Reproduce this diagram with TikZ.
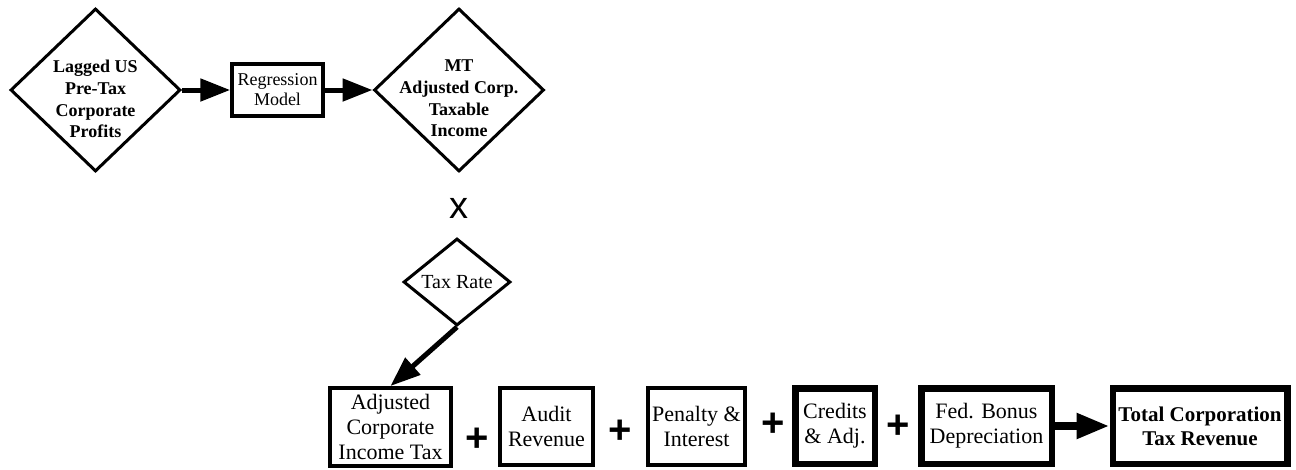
\documentclass[tikz,border=0pt]{standalone}
\usepackage{fontspec}
\setmainfont{Liberation Serif}
\setsansfont{Liberation Sans}
\usetikzlibrary{arrows.meta,shapes.geometric}

\begin{document}
\begin{tikzpicture}
  [x=1pt,y=-1pt,->,>={Triangle[length=30pt,width=22pt]},line width=5pt,
   every node/.style={align=center,font=\fontsize{22}{25}\selectfont},
   dia/.style={diamond,draw,line width=3pt,inner sep=-40pt},
   bigdia/.style={dia,font=\fontsize{18}{21.7}\selectfont\bfseries,
     minimum width=170pt,minimum height=163pt},
   box/.style={rectangle,draw,line width=4pt,inner sep=0pt,minimum height=77pt},
   thickbox/.style={box,line width=6.5pt,minimum height=75.5pt},
   op/.style={font=\fontsize{40}{40}\selectfont\sffamily\bfseries,inner sep=0pt}]
  \useasboundingbox (0,0) rectangle (1296,469);

  % top row
  \node[bigdia] (nlag) at (95.5,90)
    {\rule{0pt}{31pt}Lagged US\\Pre-Tax\\Corporate\\Profits};
  \node[box,line width=3.5pt,minimum width=91pt,minimum height=52pt,
    font=\fontsize{18}{20}\selectfont] (nreg) at (277.5,90) {Regression\\Model};
  \node[bigdia] (nmt) at (459,90)
    {\rule{0pt}{29pt}MT\\Adjusted Corp.\\Taxable\\Income};

  \path (nlag) edge (nreg);
  \path (nreg) edge (nmt);

  % multiply by the rate
  \node[font=\fontsize{38}{38}\selectfont\sffamily,inner sep=0pt] (nx) at (459,208) {x};
  \node[dia,font=\fontsize{20}{22}\selectfont,minimum width=107pt,minimum height=87pt]
    (ntax) at (457,282) {Tax Rate};

  % bottom row
  \node[box,minimum width=121pt,minimum height=78pt] (nadj) at (390.5,427)
    {Adjusted\\Corporate\\Income Tax};
  \node[op] (np1) at (477,440) {+};
  \node[box,minimum width=93pt] (naud) at (546.5,426.5) {Audit\\Revenue};
  \node[op] (np2) at (620,432) {+};
  \node[box,minimum width=97pt] (npen) at (696.5,426.5) {Penalty \&\\Interest};
  \node[op] (np3) at (773,425) {+};
  \node[thickbox,minimum width=79.5pt] (ncred) at (835,426) {Credits\\\& Adj.};
  \node[op] (np4) at (898,427) {+};
  \node[thickbox,minimum width=130.5pt] (nfed) at (986.5,426) {Fed. Bonus\\Depreciation};
  \node[thickbox,minimum width=174.5pt,font=\fontsize{21}{24}\selectfont\bfseries]
    (ntot) at (1200,426) {Total Corporation\\Tax Revenue};

  \path (ntax.south) edge (nadj.north);
  \path[line width=8pt,>={Triangle[length=33pt,width=24pt]}] (nfed) edge (ntot);

\end{tikzpicture}
\end{document}
